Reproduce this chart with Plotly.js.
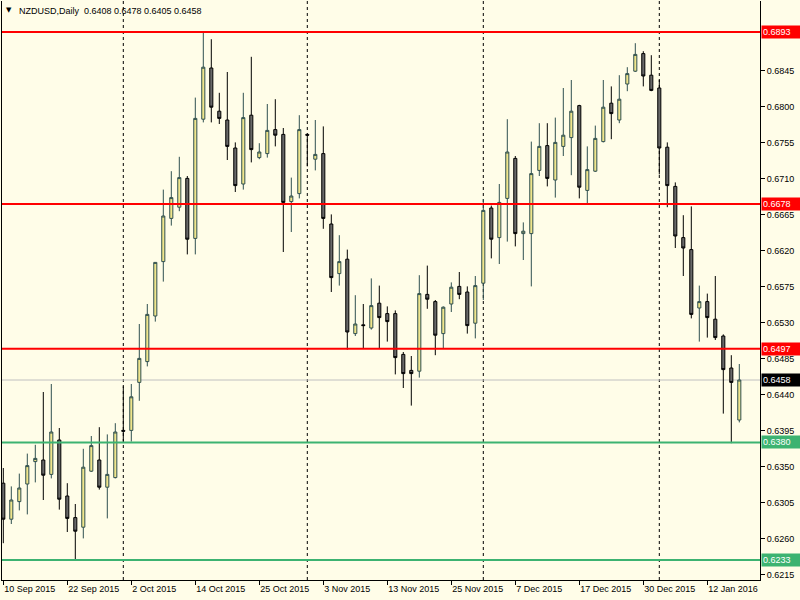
<!DOCTYPE html>
<html><head><meta charset="utf-8">
<script src="https://cdn.plot.ly/plotly-3.0.1.min.js"></script>
<style>html,body{margin:0;padding:0;background:#FFFDE8;overflow:hidden}</style>
</head><body><div id="chart" style="width:800px;height:600px"></div>
<script>
const symbol = 'NZDUSD';
const timeframe = 'Daily';
const dates = [
 '2015-09-10','2015-09-11','2015-09-14','2015-09-15','2015-09-16','2015-09-17','2015-09-18','2015-09-21','2015-09-22','2015-09-23',
 '2015-09-24','2015-09-25','2015-09-28','2015-09-29','2015-09-30','2015-10-01','2015-10-02','2015-10-05','2015-10-06','2015-10-07',
 '2015-10-08','2015-10-09','2015-10-12','2015-10-13','2015-10-14','2015-10-15','2015-10-16','2015-10-19','2015-10-20','2015-10-21',
 '2015-10-22','2015-10-23','2015-10-25','2015-10-26','2015-10-27','2015-10-28','2015-10-29','2015-10-30','2015-11-01','2015-11-02',
 '2015-11-03','2015-11-04','2015-11-05','2015-11-06','2015-11-09','2015-11-10','2015-11-11','2015-11-12','2015-11-13','2015-11-16',
 '2015-11-17','2015-11-18','2015-11-19','2015-11-20','2015-11-23','2015-11-24','2015-11-25','2015-11-26','2015-11-27','2015-11-30',
 '2015-12-01','2015-12-02','2015-12-03','2015-12-04','2015-12-07','2015-12-08','2015-12-09','2015-12-10','2015-12-11','2015-12-14',
 '2015-12-15','2015-12-16','2015-12-17','2015-12-18','2015-12-21','2015-12-22','2015-12-23','2015-12-24','2015-12-28','2015-12-29',
 '2015-12-30','2015-12-31','2016-01-04','2016-01-05','2016-01-06','2016-01-07','2016-01-08','2016-01-11','2016-01-12','2016-01-13',
 '2016-01-14','2016-01-15','2016-01-18'
];
const open = [
 0.6329,0.6284,0.6306,0.6328,0.6356,0.6358,0.6340,0.6383,0.6313,0.6286,
 0.6274,0.6344,0.6358,0.6324,0.6336,0.6395,0.6395,0.6455,0.6481,0.6538,
 0.6606,0.6660,0.6674,0.6710,0.6635,0.6784,0.6848,0.6794,0.6783,0.6748,
 0.6703,0.6789,0.6736,0.6741,0.6771,0.6765,0.6681,0.6691,0.6765,0.6734,
 0.6741,0.6653,0.6591,0.6609,0.6516,0.6527,0.6523,0.6554,0.6541,0.6541,
 0.6490,0.6470,0.6469,0.6565,0.6556,0.6516,0.6553,0.6575,0.6568,0.6529,
 0.6579,0.6673,0.6636,0.6685,0.6735,0.6641,0.6641,0.6720,0.6751,0.6708,
 0.6750,0.6761,0.6801,0.6695,0.6719,0.6756,0.6804,0.6783,0.6828,0.6844,
 0.6866,0.6839,0.6823,0.6749,0.6700,0.6636,0.6621,0.6548,0.6556,0.6534,
 0.6513,0.6473,0.6408
];
const high = [
 0.6348,0.6325,0.6341,0.6366,0.6377,0.6443,0.6453,0.6398,0.6329,0.6303,
 0.6372,0.6388,0.6399,0.6390,0.6404,0.6450,0.6453,0.6528,0.6553,0.6605,
 0.6696,0.6719,0.6737,0.6713,0.6811,0.6894,0.6884,0.6817,0.6843,0.6755,
 0.6817,0.6862,0.6754,0.6803,0.6809,0.6773,0.6711,0.6789,0.6766,0.6783,
 0.6775,0.6665,0.6639,0.6621,0.6564,0.6553,0.6585,0.6576,0.6550,0.6545,
 0.6493,0.6488,0.6589,0.6601,0.6558,0.6550,0.6580,0.6593,0.6575,0.6588,
 0.6684,0.6676,0.6703,0.6784,0.6738,0.6655,0.6756,0.6779,0.6779,0.6786,
 0.6823,0.6833,0.6802,0.6750,0.6776,0.6833,0.6825,0.6839,0.6849,0.6879,
 0.6869,0.6864,0.6833,0.6755,0.6705,0.6664,0.6675,0.6576,0.6566,0.6588,
 0.6515,0.6489,0.6478
];
const low = [
 0.6254,0.6278,0.6295,0.6290,0.6330,0.6308,0.6335,0.6296,0.6268,0.6234,
 0.6260,0.6343,0.6321,0.6285,0.6335,0.6381,0.6381,0.6432,0.6475,0.6531,
 0.6581,0.6651,0.6669,0.6615,0.6615,0.6780,0.6780,0.6778,0.6733,0.6693,
 0.6696,0.6730,0.6734,0.6736,0.6750,0.6618,0.6643,0.6685,0.6725,0.6720,
 0.6647,0.6568,0.6576,0.6496,0.6513,0.6498,0.6521,0.6497,0.6506,0.6465,
 0.6448,0.6426,0.6461,0.6547,0.6489,0.6498,0.6543,0.6559,0.6516,0.6510,
 0.6558,0.6610,0.6603,0.6631,0.6625,0.6608,0.6575,0.6713,0.6700,0.6686,
 0.6738,0.6714,0.6685,0.6679,0.6718,0.6755,0.6759,0.6779,0.6819,0.6843,
 0.6825,0.6819,0.6715,0.6674,0.6623,0.6588,0.6535,0.6506,0.6511,0.6508,
 0.6416,0.6379,0.6405
];
const close = [
 0.6284,0.6308,0.6323,0.6351,0.6360,0.6339,0.6393,0.6309,0.6285,0.6269,
 0.6349,0.6376,0.6324,0.6340,0.6393,0.6394,0.6437,0.6485,0.6540,0.6605,
 0.6663,0.6686,0.6711,0.6634,0.6785,0.6849,0.6799,0.6785,0.6750,0.6701,
 0.6786,0.6746,0.6743,0.6770,0.6764,0.6680,0.6688,0.6771,0.6764,0.6740,
 0.6660,0.6586,0.6606,0.6518,0.6528,0.6526,0.6551,0.6536,0.6531,0.6486,
 0.6466,0.6466,0.6566,0.6559,0.6514,0.6549,0.6574,0.6565,0.6526,0.6576,
 0.6670,0.6634,0.6680,0.6743,0.6641,0.6644,0.6716,0.6750,0.6710,0.6755,
 0.6764,0.6794,0.6699,0.6721,0.6760,0.6799,0.6791,0.6809,0.6841,0.6865,
 0.6838,0.6820,0.6748,0.6701,0.6638,0.6623,0.6540,0.6556,0.6536,0.6511,
 0.6471,0.6455,0.6458
];
const tickDates = ['2015-09-10','2015-09-22','2015-10-02','2015-10-14','2015-10-25','2015-11-03','2015-11-13','2015-11-25','2015-12-07','2015-12-17','2015-12-30','2016-01-12'];
const tickLabels = ['10 Sep 2015','22 Sep 2015','2 Oct 2015','14 Oct 2015','25 Oct 2015','3 Nov 2015','13 Nov 2015','25 Nov 2015','7 Dec 2015','17 Dec 2015','30 Dec 2015','12 Jan 2016'];
const separatorDates = ['2015-10-01','2015-11-01','2015-12-01','2016-01-04'];
const resistanceLevels = [0.6893, 0.6678, 0.6497];
const supportLevels = [0.6380, 0.6233];
const bidPrice = 0.6458;
const yTicks = [0.6215,0.6260,0.6305,0.6350,0.6395,0.6440,0.6485,0.6530,0.6575,0.6620,0.6665,0.6710,0.6755,0.6800,0.6845];

const FONT = 'Liberation Sans, Arial, sans-serif';
const trace = {
  type: 'candlestick', x: dates, open: open, high: high, low: low, close: close,
  increasing: {line: {color: '#2F4F4F', width: 1}, fillcolor: '#F0E68C'},
  decreasing: {line: {color: '#000000', width: 1}, fillcolor: '#696969'},
  whiskerwidth: 0, hoverinfo: 'skip', showlegend: false
};

const shapes = [];
separatorDates.forEach(d => shapes.push({type: 'line', xref: 'x', yref: 'paper', x0: d, x1: d, y0: 0, y1: 1,
  line: {color: '#000000', width: 1, dash: '3px,3px'}, layer: 'below'}));
shapes.push({type: 'line', xref: 'paper', yref: 'y', x0: 0, x1: 1, y0: bidPrice, y1: bidPrice,
  line: {color: '#C0C0C0', width: 1}, layer: 'below'});
resistanceLevels.forEach(v => shapes.push({type: 'line', xref: 'paper', yref: 'y', x0: 0, x1: 1, y0: v, y1: v,
  line: {color: '#FF0000', width: 2}, layer: 'above'}));
supportLevels.forEach(v => shapes.push({type: 'line', xref: 'paper', yref: 'y', x0: 0, x1: 1, y0: v, y1: v,
  line: {color: '#3CB371', width: 2}, layer: 'above'}));

function priceTag(v, bg) {
  return {xref: 'paper', yref: 'y', x: 1, y: v, xanchor: 'left', yanchor: 'middle', xshift: 1,
    text: v.toFixed(4), showarrow: false, bgcolor: bg, borderpad: 1, width: 36, align: 'left',
    font: {family: FONT, size: 9, color: '#FFFFFF'}};
}
const last = close.length - 1;
const annotations = [];
resistanceLevels.forEach(v => annotations.push(priceTag(v, '#FF0000')));
supportLevels.forEach(v => annotations.push(priceTag(v, '#3CB371')));
annotations.push(priceTag(bidPrice, '#000000'));
annotations.push({xref: 'paper', yref: 'paper', x: 0, y: 1, xanchor: 'left', yanchor: 'top', xshift: 2, yshift: -3,
  text: '▼', showarrow: false, font: {family: 'DejaVu Sans', size: 7, color: '#000000'}});
annotations.push({xref: 'paper', yref: 'paper', x: 0, y: 1, xanchor: 'left', yanchor: 'top', xshift: 15, yshift: -3,
  text: symbol + ',' + timeframe + '  ' + [open[last], high[last], low[last], close[last]].map(v => v.toFixed(4)).join(' '),
  showarrow: false, font: {family: FONT, size: 9, color: '#000000'}});

const layout = {
  width: 800, height: 600,
  margin: {l: 2, r: 40, t: 1, b: 20, pad: 0},
  paper_bgcolor: '#FFFDE8', plot_bgcolor: '#FFFDE8',
  boxgap: 0.45,
  font: {family: FONT, size: 9, color: '#000000'},
  xaxis: {type: 'category', range: [-0.1625, 94.5875], rangeslider: {visible: false},
    tickvals: tickDates, ticktext: tickLabels, ticks: 'outside', ticklen: 4, tickcolor: '#000000',
    ticklabelposition: 'outside right', showgrid: false, zeroline: false,
    showline: true, linecolor: '#000000', linewidth: 1, mirror: false, fixedrange: true,
    tickfont: {family: FONT, size: 9, color: '#000000'}},
  yaxis: {side: 'right', range: [0.6208, 0.693175], tickvals: yTicks, ticktext: yTicks.map(v => v.toFixed(4)),
    ticks: 'outside', ticklen: 4, tickcolor: '#000000', showgrid: false, zeroline: false,
    showline: true, linecolor: '#000000', linewidth: 1, mirror: true, fixedrange: true,
    tickfont: {family: FONT, size: 9, color: '#000000'}},
  shapes: shapes, annotations: annotations, hovermode: false
};
Plotly.newPlot('chart', [trace], layout, {staticPlot: true, displayModeBar: false});
</script></body></html>
